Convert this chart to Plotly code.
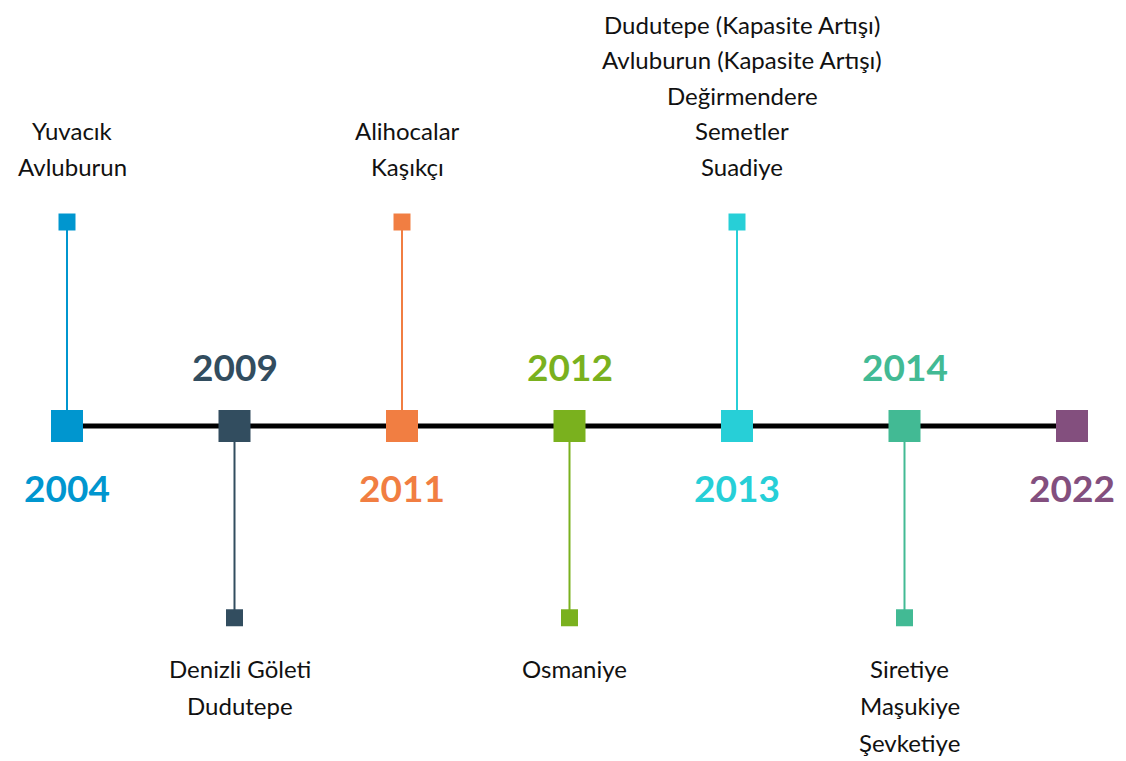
import plotly.graph_objects as go

# ---- data ----
years = ["2004", "2009", "2011", "2012", "2013", "2014", "2022"]
colors = ["#0096CF", "#324D5F", "#F17E42", "#7AB11E", "#27CFD7", "#42BA94", "#834F7E"]
sides = ["up", "down", "up", "down", "up", "down", None]
projects_2004 = ["Yuvacık", "Avluburun"]
projects_2009 = ["Denizli Göleti", "Dudutepe"]
projects_2011 = ["Alihocalar", "Kaşıkçı"]
projects_2012 = ["Osmaniye"]
projects_2013 = ["Dudutepe (Kapasite Artışı)", "Avluburun (Kapasite Artışı)",
                 "Değirmendere", "Semetler", "Suadiye"]
projects_2014 = ["Siretiye", "Maşukiye", "Şevketiye"]
projects_2022 = []
projects = [projects_2004, projects_2009, projects_2011, projects_2012,
            projects_2013, projects_2014, projects_2022]

# ---- style ----
STEM_UP = 1.0
STEM_DOWN = -0.94
LINE_GAP = 35.5
FONT = "Lato"
OFF = 8  # page body margin

idx = list(range(len(years)))
fig = go.Figure()

# main timeline
fig.add_trace(go.Scatter(x=idx, y=[0] * len(idx), mode="lines",
                         line=dict(color="black", width=5), hoverinfo="skip"))

annotations = []
for i, (yr, col, side, names) in enumerate(zip(years, colors, sides, projects)):
    if side is not None:
        end = STEM_UP if side == "up" else STEM_DOWN
        fig.add_trace(go.Scatter(x=[i, i], y=[0, end], mode="lines",
                                 line=dict(color=col, width=2), hoverinfo="skip"))
        fig.add_trace(go.Scatter(x=[i], y=[end], mode="markers",
                                 marker=dict(symbol="square", size=17, color=col),
                                 hoverinfo="skip"))
        n = len(names)
        for k, name in enumerate(names):
            if side == "up":
                ys = 56 + (n - 1 - k) * LINE_GAP
            else:
                ys = -(51 + k * 37)
            annotations.append(dict(x=i, y=end, xref="x", yref="y", text=name,
                                    showarrow=False, yanchor="middle", xanchor="center",
                                    yshift=ys, xshift=5,
                                    font=dict(family=FONT, size=24, color="#111111")))
    # year label opposite to stem (below when no stem)
    yshift = 60 if side == "down" else -61
    annotations.append(dict(x=i, y=0, xref="x", yref="y", text="<b>%s</b>" % yr,
                            showarrow=False, yanchor="middle", xanchor="center",
                            yshift=yshift,
                            font=dict(family=FONT, size=37, color=col)))

# big markers on the line
fig.add_trace(go.Scatter(x=idx, y=[0] * len(idx), mode="markers",
                         marker=dict(symbol="square", size=32, color=colors,
                                     line=dict(width=0)),
                         hoverinfo="skip"))

W, H = 1126, 761
x0_px, x1_px, y0_px = 67 - OFF, 1072 - OFF, 426 - OFF
px_per_x = (x1_px - x0_px) / (len(years) - 1)
px_per_y = 204.0
fig.update_layout(
    width=W, height=H,
    margin=dict(l=0, r=0, t=0, b=0),
    paper_bgcolor="white", plot_bgcolor="white",
    showlegend=False,
    annotations=annotations,
    xaxis=dict(visible=False,
               range=[-x0_px / px_per_x, (len(years) - 1) + (W - x1_px) / px_per_x],
               fixedrange=True),
    yaxis=dict(visible=False,
               range=[-(H - y0_px) / px_per_y, y0_px / px_per_y],
               fixedrange=True),
)

fig.write_html("out.html")
